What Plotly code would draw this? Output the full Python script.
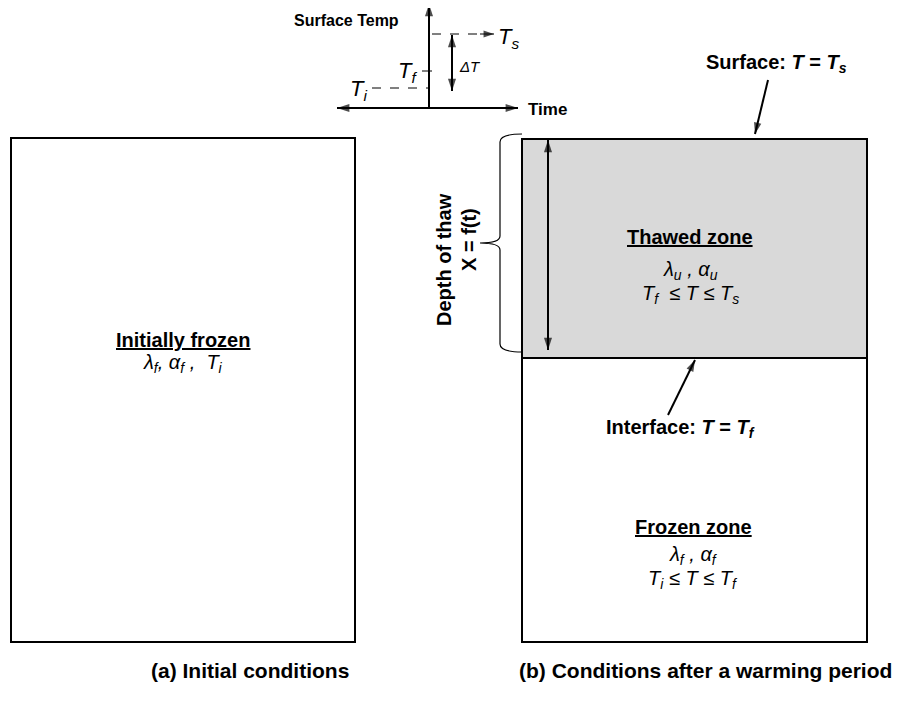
import math
import plotly.graph_objects as go

# text content
panel_titles = ["<u>Initially frozen</u>", "<u>Thawed zone</u>", "<u>Frozen zone</u>"]
panel_props = ["<i>λ<sub>f</sub>, α<sub>f</sub> ,  T<sub>i</sub></i>",
               "<i>λ<sub>u</sub> , α<sub>u</sub></i>",
               "<i>λ<sub>f</sub> , α<sub>f</sub></i>"]
panel_ranges = ["", "<i>T<sub>f</sub></i>  ≤ <i>T</i> ≤ <i>T<sub>s</sub></i>",
                "<i>T<sub>i</sub></i> ≤ <i>T</i> ≤ <i>T<sub>f</sub></i>"]
captions = ["(a) Initial conditions", "(b) Conditions after a warming period"]
boundary_labels = ["Surface: <i>T</i> = <i>T<sub>s</sub></i>", "Interface: <i>T</i> = <i>T<sub>f</sub></i>"]
depth_label = ["Depth of thaw", "X = f(t)"]
inset_labels = ["Surface Temp", "Time", "<i>T<sub>s</sub></i>", "<i>T<sub>f</sub></i>", "<i>T<sub>i</sub></i>", "<i>ΔT</i>"]

FONT = "Liberation Sans, Arial, sans-serif"
W, H = 919, 708
PAD = 8  # page body margin

# layout geometry (pixel coordinates, y down)
left_box = [11, 138, 355, 642]
right_box = [522, 139, 867, 642]
thaw_bottom = 358

fig = go.Figure()

shapes = []
shapes.append(dict(type="rect", x0=right_box[0], y0=right_box[1], x1=right_box[2], y1=thaw_bottom, fillcolor="#d9d9d9",
                   line=dict(width=0), layer="below"))
shapes.append(dict(type="rect", x0=left_box[0], y0=left_box[1], x1=left_box[2], y1=left_box[3], line=dict(color="black", width=2)))
shapes.append(dict(type="rect", x0=right_box[0], y0=right_box[1], x1=right_box[2], y1=right_box[3], line=dict(color="black", width=2)))
shapes.append(dict(type="line", x0=right_box[0], y0=thaw_bottom, x1=right_box[2], y1=thaw_bottom, line=dict(color="black", width=2)))
# curly brace
brace = "M 522 134 Q 500 134 500 142 L 500 236 Q 500 243 480 243 Q 500 243 500 250 L 500 344 Q 500 352 522 352"
shapes.append(dict(type="path", path=brace, line=dict(color="black", width=1.2)))
# inset tick and dashed guides
shapes.append(dict(type="line", x0=422, y0=71, x1=432, y1=71, line=dict(color="black", width=1)))
shapes.append(dict(type="line", x0=372, y0=88, x1=429, y1=88, line=dict(color="black", width=1, dash="dash")))
shapes.append(dict(type="line", x0=432, y0=34, x1=482, y1=34, line=dict(color="black", width=1, dash="dash")))
fig.update_layout(shapes=shapes)


def arrow(x0, y0, x1, y1, both=False, width=2, size=13, line=True):
    ang = math.degrees(math.atan2(x1 - x0, -(y1 - y0)))  # screen angle, clockwise from up
    syms, angs = ["arrow", "arrow"], [ang + 180, ang]
    if not both:
        syms[0] = "circle"
    fig.add_trace(go.Scatter(x=[x0, x1], y=[y0, y1], mode="lines+markers" if line else "markers",
                             line=dict(color="black", width=width),
                             marker=dict(symbol=syms, angle=angs, size=[size if s == "arrow" else 0 for s in syms],
                                         color="black", line=dict(width=0)),
                             hoverinfo="skip", showlegend=False))


# inset arrows
arrow(429, 108, 429, 4)
arrow(337, 108, 518, 108, both=True)
arrow(480, 34, 494, 34, width=1, size=11)
arrow(452, 35, 452, 91, both=True)
# depth arrow
arrow(548, 140, 548, 350, both=True)
# boundary pointers
arrow(768, 80, 755, 134, size=12)
arrow(668, 415, 695, 360, size=12)


def label(x, y, text, size=20, bold=False, xanchor="center", angle=0):
    fig.add_annotation(x=x, y=y, xref="x", yref="y", text=f"<b>{text}</b>" if bold else text, showarrow=False,
                       xanchor=xanchor, yanchor="middle", textangle=angle,
                       font=dict(family=FONT, size=size, color="black"))


cx = [183, 690, 693]
ty = [340, 237, 527]
label(cx[0], ty[0], panel_titles[0], bold=True)
label(cx[0], 363, panel_props[0])
label(cx[1], ty[1], panel_titles[1], bold=True)
label(cx[1], 270, panel_props[1])
label(cx[1], 294, panel_ranges[1])
label(cx[2], ty[2], panel_titles[2], bold=True)
label(cx[2], 555, panel_props[2])
label(cx[2], 579, panel_ranges[2])

label(149, 670, captions[0], size=21, bold=True, xanchor="left")
label(517, 670, captions[1], size=21, bold=True, xanchor="left")

label(776, 63, boundary_labels[0], bold=True)
label(680, 428, boundary_labels[1], bold=True)

label(444, 260, depth_label[0], bold=True, angle=-90)
label(469, 240, depth_label[1], bold=True, angle=-90)

label(401, 20, inset_labels[0], size=16, bold=True, xanchor="right")
label(526, 109, inset_labels[1], size=17, bold=True, xanchor="left")
label(496, 38, inset_labels[2], size=22, xanchor="left")
label(419, 72, inset_labels[3], size=22, xanchor="right")
label(369, 90, inset_labels[4], size=22, xanchor="right")
label(457, 66, inset_labels[5], size=15, xanchor="left")

fig.update_xaxes(range=[PAD, W], visible=False, showgrid=False, zeroline=False)
fig.update_yaxes(range=[H, PAD], visible=False, showgrid=False, zeroline=False)
fig.update_layout(width=W - PAD, height=H - PAD, margin=dict(l=0, r=0, t=0, b=0), plot_bgcolor="white",
                  paper_bgcolor="white", showlegend=False, dragmode=False)

fig.write_html("out.html")
